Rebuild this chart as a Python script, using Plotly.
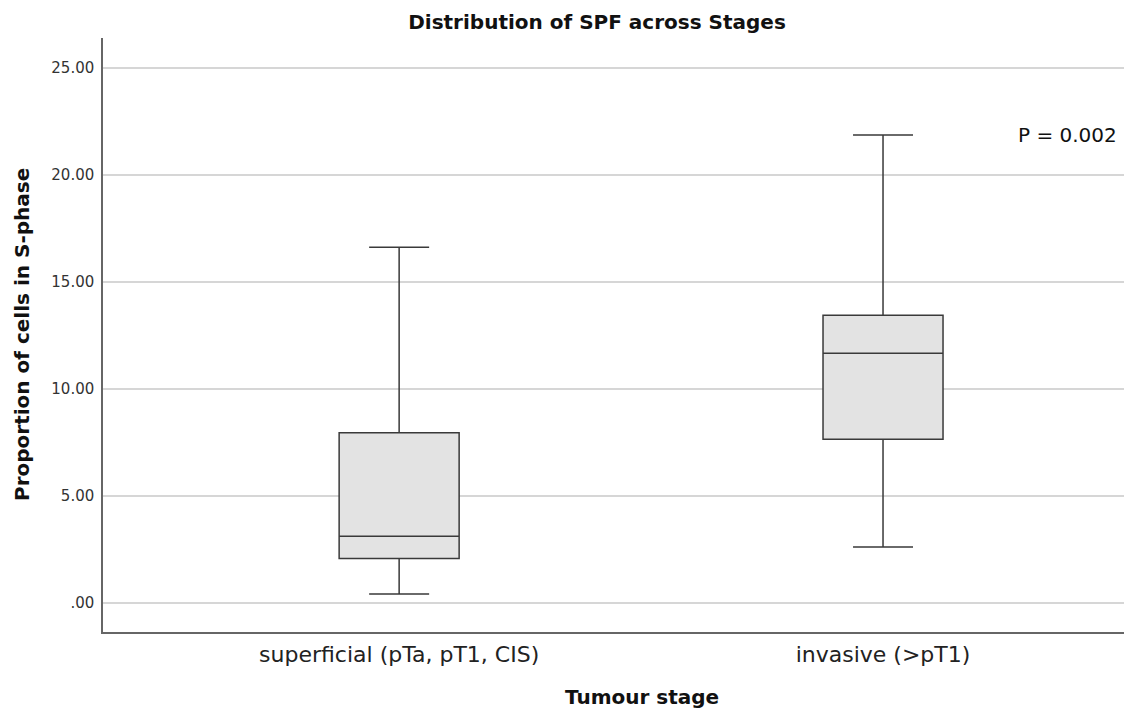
import plotly.graph_objects as go

categories = ["superficial (pTa, pT1, CIS)", "invasive (>pT1)"]
lower_whisker = [0.41, 2.61]
q1_values = [2.07, 7.64]
median_values = [3.11, 11.66]
q3_values = [7.95, 13.43]
upper_whisker = [16.61, 21.85]
y_ticks = [0, 5, 10, 15, 20, 25]
y_tick_labels = [".00", "5.00", "10.00", "15.00", "20.00", "25.00"]

FONT = "DejaVu Sans"

fig = go.Figure()
fig.add_trace(go.Box(
    x=categories,
    q1=q1_values,
    median=median_values,
    q3=q3_values,
    lowerfence=lower_whisker,
    upperfence=upper_whisker,
    fillcolor="#e3e3e3",
    line=dict(color="#3a3a3a", width=1.5),
    width=0.248,
    whiskerwidth=0.5,
    boxpoints=False,
    showlegend=False,
    hoverinfo="skip",
))

fig.update_layout(
    width=1124, height=713,
    margin=dict(l=103, r=0, t=38, b=81),
    paper_bgcolor="white", plot_bgcolor="white",
    font=dict(family=FONT, color="#222"),
    title=dict(text="<b>Distribution of SPF across Stages</b>", x=597 / 1124, xanchor="center",
               y=1 - 22 / 713, yanchor="middle", yref="container",
               font=dict(size=20, family=FONT, color="#111")),
)
fig.update_xaxes(
    type="category", range=[-0.612, 1.498],
    showline=True, linecolor="#666", linewidth=1.5,
    showgrid=False, ticks="outside", ticklen=2, tickcolor="rgba(0,0,0,0)",
    tickfont=dict(size=22, family=FONT, color="#222"),
    zeroline=False,
)
fig.update_yaxes(
    range=[-1.36, 26.38],
    tickvals=y_ticks, ticktext=y_tick_labels,
    showline=True, linecolor="#666", linewidth=1.5,
    showgrid=True, gridcolor="#d6d6d6", gridwidth=1.5,
    ticks="outside", ticklen=4, tickcolor="rgba(0,0,0,0)",
    tickfont=dict(size=15, family=FONT, color="#333"),
    zeroline=False,
)
fig.add_annotation(text="<b>Proportion of cells in S-phase</b>", xref="paper", yref="paper",
                   x=-103 / 1021 + 22 / 1021, y=0.5, xanchor="center", yanchor="middle",
                   textangle=-90, showarrow=False, font=dict(size=20, family=FONT, color="#111"))
fig.add_annotation(text="<b>Tumour stage</b>", xref="paper", yref="paper",
                   x=(642 - 103) / 1021, y=-(697 - 632) / 594, xanchor="center", yanchor="middle",
                   showarrow=False, font=dict(size=20, family=FONT, color="#111"))
fig.add_annotation(text="P = 0.002", xref="paper", yref="y",
                   x=(1119 - 103) / 1021, y=21.85, xanchor="right", yanchor="middle",
                   showarrow=False, font=dict(size=20, family=FONT, color="#111"))

fig.write_html("out.html")
